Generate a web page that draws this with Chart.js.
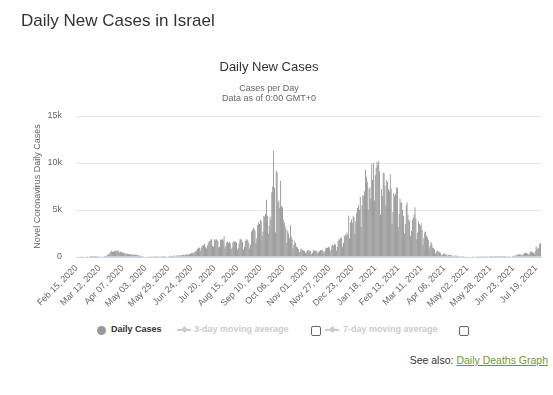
<!DOCTYPE html>
<html>
<head>
<meta charset="utf-8">
<title>Daily New Cases in Israel</title>
<script src="https://cdn.jsdelivr.net/npm/chart.js@4.4.1/dist/chart.umd.min.js"></script>
<style>
  body { margin: 0; width: 553px; height: 395px; position: relative; overflow: hidden; background: #fff;
         font-family: "Liberation Sans", Arial, sans-serif; }
  #casesChart { position: absolute; left: 0; top: 0; }
  .txt { position: absolute; white-space: nowrap; }
  #page-title { left: 21px; top: 12px; font-size: 17px; line-height: 17px; color: #333; }
  #chart-title { left: 169px; width: 200px; top: 60px; font-size: 13px; line-height: 13px; color: #333; text-align: center; }
  #chart-subtitle { left: 169px; width: 200px; top: 84px; font-size: 9px; line-height: 9.7px; color: #666; text-align: center; }
  .legend-text { font-size: 9px; line-height: 9px; font-weight: bold; top: 325px; }
  .dot { position: absolute; left: 97px; top: 326px; width: 9px; height: 9px; border-radius: 50%; background: #999; }
  .ma-line { position: absolute; top: 329px; width: 14px; height: 2px; background: #ccc; }
  .ma-diamond { position: absolute; top: 327px; width: 5px; height: 5px; background: #ccc; transform: rotate(45deg); }
  .check { position: absolute; top: 326px; width: 8px; height: 8px; border: 1px solid #666; border-radius: 2px; background: #fff; }
  #see-also { right: 5px; top: 355px; font-size: 10.5px; line-height: 10.5px; color: #333; }
  #see-also a { color: #6f9a2a; text-decoration: underline; }
</style>
</head>
<body>
<canvas id="casesChart" width="553" height="320"></canvas>
<div id="page-title" class="txt">Daily New Cases in Israel</div>
<div id="chart-title" class="txt">Daily New Cases</div>
<div id="chart-subtitle" class="txt">Cases per Day<br>Data as of 0:00 GMT+0</div>

<span class="dot"></span>
<div class="txt legend-text" style="left:111px;color:#333">Daily Cases</div>
<span class="ma-line" style="left:177px"></span><span class="ma-diamond" style="left:181.5px"></span>
<div class="txt legend-text" style="left:194px;color:#ccc">3-day moving average</div>
<span class="check" style="left:311px"></span>
<span class="ma-line" style="left:325px"></span><span class="ma-diamond" style="left:329.5px"></span>
<div class="txt legend-text" style="left:343px;color:#ccc">7-day moving average</div>
<span class="check" style="left:459px"></span>

<div id="see-also" class="txt">See also: <a href="#">Daily Deaths Graph</a></div>

<script>
// daily new cases, one array per month
const feb2020 = [0, 0, 0, 0, 0, 0, 1, 0, 0, 0, 0, 0, 1, 0, 0];
const mar2020 = [2, 3, 1, 2, 2, 4, 6, 5, 9, 17, 19, 33, 34, 50, 61, 50, 76, 100, 144, 138, 178, 260, 312, 486, 586, 692, 536, 616, 620, 700, 621];
const apr2020 = [640, 720, 600, 480, 560, 520, 440, 470, 390, 420, 300, 340, 360, 290, 310, 280, 260, 300, 220, 250, 290, 210, 240, 180, 150, 170, 120, 140, 100, 90];
const may2020 = [70, 60, 40, 50, 45, 30, 35, 25, 20, 28, 18, 15, 22, 12, 16, 25, 10, 14, 20, 15, 18, 9, 12, 10, 17, 20, 30, 45, 80, 115, 140];
const jun2020 = [100, 110, 140, 120, 160, 90, 140, 170, 190, 160, 130, 210, 150, 200, 230, 180, 240, 280, 300, 260, 230, 310, 370, 420, 450, 360, 480, 530, 620, 700];
const jul2020 = [880, 960, 1010, 650, 920, 1150, 1250, 1300, 1380, 1100, 900, 1200, 1500, 1700, 1680, 1850, 1900, 1200, 1100, 1880, 1750, 1950, 1820, 1700, 1000, 1100, 1870, 1800, 1950, 1750, 2200];
const aug2020 = [900, 1200, 1550, 1650, 1500, 1600, 1450, 850, 1000, 1550, 1700, 1600, 1650, 1550, 800, 950, 1450, 1900, 1950, 1800, 1600, 800, 1100, 1700, 1850, 1900, 1750, 1500, 900, 1300, 2700];
const sep2020 = [2900, 3100, 3000, 2800, 1500, 2000, 3400, 3700, 3500, 4000, 3800, 2200, 2700, 4400, 4300, 4600, 6100, 4400, 2500, 3300, 4300, 4000, 6900, 7500, 11300, 7400, 2600, 9200, 9000, 5800];
const oct2020 = [6000, 5200, 8100, 5400, 5300, 4000, 3700, 3300, 3000, 1500, 2800, 2500, 2000, 3400, 2200, 1900, 900, 1300, 1700, 1500, 1100, 1000, 850, 500, 600, 900, 800, 750, 700, 650, 400];
const nov2020 = [500, 650, 750, 700, 680, 600, 300, 450, 700, 720, 650, 700, 600, 350, 500, 650, 750, 700, 800, 650, 400, 600, 900, 1000, 950, 1100, 1000, 600, 800, 1200];
const dec2020 = [1300, 1200, 1400, 1300, 700, 1100, 1700, 1900, 1850, 2100, 2000, 1100, 1500, 2200, 2400, 2300, 2600, 2400, 4400, 2000, 3700, 4000, 3600, 4400, 4200, 2500, 3800, 4700, 5200, 5500, 5000];
const jan2021 = [6400, 3200, 5500, 6600, 6500, 7000, 9300, 8500, 8000, 5000, 7300, 7400, 6200, 9900, 8200, 10000, 6000, 8700, 9500, 10100, 9800, 10200, 9100, 4500, 7200, 6500, 9000, 8900, 7600, 5500, 8200];
const feb2021 = [8000, 7200, 7000, 8800, 7300, 3500, 4800, 6800, 6500, 6700, 7400, 7400, 3200, 4600, 6200, 5800, 5800, 5000, 4400, 2500, 3500, 5500, 5800, 4500, 4000, 3800, 2200, 2800];
const mar2021 = [3900, 4200, 4500, 5300, 4100, 1900, 2600, 3800, 3500, 3300, 3600, 2900, 1300, 2000, 2600, 2700, 2300, 2100, 1800, 900, 1200, 1600, 1400, 1000, 950, 800, 350, 500, 700, 600, 550];
const apr2021 = [500, 420, 180, 250, 380, 340, 300, 280, 250, 120, 200, 240, 220, 150, 170, 130, 80, 120, 160, 140, 110, 120, 100, 50, 80, 90, 100, 85, 70, 60];
const may2021 = [30, 40, 50, 60, 55, 50, 45, 20, 30, 40, 45, 35, 30, 25, 15, 20, 30, 25, 30, 20, 20, 10, 15, 20, 18, 22, 15, 12, 8, 12, 15];
const jun2021 = [10, 15, 12, 8, 5, 10, 14, 12, 10, 8, 6, 4, 8, 12, 18, 20, 25, 20, 15, 30, 60, 110, 100, 140, 160, 120, 180, 250, 300, 280];
const jul2021 = [300, 250, 150, 250, 350, 400, 420, 450, 380, 200, 350, 480, 600, 550, 500, 450, 300, 600, 1150, 900, 850, 1000, 1400, 1450];

const dailyCases = [].concat(feb2020, mar2020, apr2020, may2020, jun2020, jul2020, aug2020, sep2020,
  oct2020, nov2020, dec2020, jan2021, feb2021, mar2021, apr2021, may2021, jun2021, jul2021);

// categories: one per day from Feb 15, 2020
const firstDay = Date.UTC(2020, 1, 15);
const monthNames = ['Jan', 'Feb', 'Mar', 'Apr', 'May', 'Jun', 'Jul', 'Aug', 'Sep', 'Oct', 'Nov', 'Dec'];
const dayLabels = dailyCases.map((_, i) => {
  const d = new Date(firstDay + i * 86400000);
  return `${monthNames[d.getUTCMonth()]} ${String(d.getUTCDate()).padStart(2, '0')}, ${d.getUTCFullYear()}`;
});
const labelStep = 26;

const yTickValues = [0, 5000, 10000, 15000];
const yTickLabels = ['0', '5k', '10k', '15k'];

new Chart(document.getElementById('casesChart'), {
  type: 'bar',
  data: {
    labels: dayLabels,
    datasets: [{
      label: 'Daily Cases',
      data: dailyCases,
      backgroundColor: '#8a8a8a',
      borderWidth: 0,
      barPercentage: 0.9,
      categoryPercentage: 1
    }]
  },
  options: {
    responsive: false,
    animation: false,
    devicePixelRatio: 1,
    layout: { padding: { top: 116, right: 12, left: 0, bottom: 0 } },
    plugins: { legend: { display: false }, tooltip: { enabled: false } },
    scales: {
      x: {
        grid: { display: false, drawTicks: false },
        border: { display: true, color: '#ccd6eb' },
        ticks: {
          autoSkip: false,
          minRotation: 45,
          maxRotation: 45,
          padding: 6,
          color: '#666',
          font: { family: 'Liberation Sans', size: 9 },
          callback: (val, i) => (i % labelStep === 0 ? dayLabels[i] : null)
        },
        afterFit: (scale) => { scale.height = 63; }
      },
      y: {
        min: 0,
        max: 15000,
        border: { display: false },
        grid: { color: '#e6e6e6', drawTicks: false },
        afterBuildTicks: (scale) => { scale.ticks = yTickValues.map(v => ({ value: v })); },
        ticks: {
          padding: 14,
          color: '#666',
          font: { family: 'Liberation Sans', size: 9 },
          callback: (v) => yTickLabels[yTickValues.indexOf(v)]
        },
        title: {
          display: true,
          text: 'Novel Coronavirus Daily Cases',
          color: '#666',
          font: { family: 'Liberation Sans', size: 9 },
          padding: { top: 32, bottom: 0 }
        },
        afterFit: (scale) => { scale.width = 76; }
      }
    }
  }
});
</script>
</body>
</html>
